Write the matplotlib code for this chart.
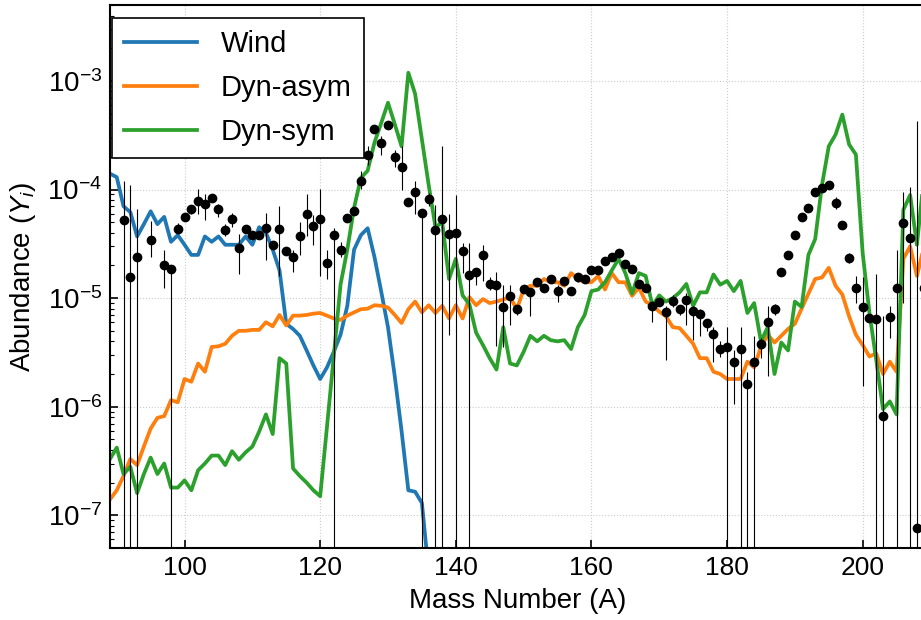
import sys
import numpy as np
from matplotlib import pyplot as plt

plt.rcParams["font.family"] = ["Liberation Sans", "DejaVu Sans"]
plt.rcParams["mathtext.fontset"] = "custom"
plt.rcParams["mathtext.rm"] = "Liberation Sans"
plt.rcParams["mathtext.it"] = "Liberation Sans:italic"

# model yields per mass number
wind_A = np.arange(89, 137)
wind_Y = [
    1.4e-4, 1.3e-4, 7.0e-5, 6.2e-5, 3.7e-5, 4.8e-5, 6.3e-5, 4.8e-5, 5.6e-5, 3.3e-5,   # 89-98
    3.8e-5, 3.1e-5, 2.5e-5, 2.5e-5, 3.7e-5, 3.3e-5, 3.7e-5, 3.1e-5, 3.1e-5, 3.1e-5,   # 99-108
    3.7e-5, 3.1e-5, 4.5e-5, 4.0e-5, 2.8e-5, 1.8e-5, 5.8e-6, 5.2e-6, 4.5e-6, 3.3e-6,   # 109-118
    2.4e-6, 1.8e-6, 2.3e-6, 3.2e-6, 4.6e-6, 8.5e-6, 2.8e-5, 3.8e-5, 4.4e-5, 2.4e-5,   # 119-128
    1.15e-5, 5.4e-6, 1.9e-6, 6.0e-7, 1.7e-7, 1.65e-7, 1.3e-7, 3.0e-8,                 # 129-136
]

dyn_A = np.arange(89, 210)
asym_Y = [
    1.4e-7, 1.7e-7, 2.3e-7, 3.3e-7, 2.9e-7, 4.3e-7, 6.3e-7, 7.9e-7, 8.2e-7, 1.15e-6,  # 89-98
    1.1e-6, 1.8e-6, 1.7e-6, 2.5e-6, 2.1e-6, 3.55e-6, 3.6e-6, 3.8e-6, 4.5e-6, 5.0e-6,  # 99-108
    5.0e-6, 5.1e-6, 5.1e-6, 6.0e-6, 5.5e-6, 7.0e-6, 5.6e-6, 6.9e-6, 6.9e-6, 7.0e-6,  # 109-118
    7.2e-6, 7.3e-6, 6.9e-6, 6.5e-6, 6.3e-6, 6.9e-6, 7.4e-6, 7.9e-6, 8.0e-6, 8.6e-6,  # 119-128
    8.5e-6, 8.2e-6, 7.0e-6, 5.9e-6, 7.9e-6, 9.3e-6, 7.4e-6, 8.6e-6, 7.3e-6, 8.5e-6,  # 129-138
    6.5e-6, 8.6e-6, 6.5e-6, 1.02e-5, 8.6e-6, 9.8e-6, 9.0e-6, 9.3e-6, 9.7e-6, 1.02e-5,  # 139-148
    7.9e-6, 1.2e-5, 1.3e-5, 1.3e-5, 1.5e-5, 1.4e-5, 1.4e-5, 1.3e-5, 1.7e-5, 1.5e-5,  # 149-158
    1.4e-5, 1.4e-5, 1.6e-5, 1.2e-5, 1.7e-5, 1.4e-5, 1.4e-5, 1.05e-5, 1.25e-5, 9.3e-6,  # 159-168
    8.6e-6, 7.5e-6, 6.8e-6, 5.4e-6, 5.3e-6, 4.5e-6, 3.8e-6, 2.8e-6, 2.8e-6, 2.1e-6,  # 169-178
    2.0e-6, 1.8e-6, 1.8e-6, 1.8e-6, 2.6e-6, 2.3e-6, 3.55e-6, 4.6e-6, 3.9e-6, 4.5e-6,  # 179-188
    5.2e-6, 5.8e-6, 8.0e-6, 1.1e-5, 1.5e-5, 1.55e-5, 1.9e-5, 1.3e-5, 1.08e-5, 6.8e-6,  # 189-198
    4.6e-6, 3.7e-6, 2.9e-6, 3.1e-6, 2.0e-6, 2.6e-6, 2.1e-6, 2.3e-5, 3.0e-5, 1.6e-5,  # 199-208
    2.9e-5,                                                                            # 209
]
sym_Y = [
    3.3e-7, 4.2e-7, 2.4e-7, 2.8e-7, 1.6e-7, 2.4e-7, 3.4e-7, 2.4e-7, 3.0e-7, 1.8e-7,  # 89-98
    1.8e-7, 2.1e-7, 1.7e-7, 2.6e-7, 3.0e-7, 3.55e-7, 3.55e-7, 2.9e-7, 3.9e-7, 3.25e-7,  # 99-108
    3.8e-7, 4.3e-7, 5.9e-7, 8.5e-7, 5.6e-7, 2.8e-6, 2.5e-6, 2.7e-7, 2.3e-7, 2.0e-7,  # 109-118
    1.7e-7, 1.5e-7, 6.5e-7, 2.9e-6, 1.33e-5, 2.8e-5, 6.8e-5, 1.28e-4, 1.49e-4, 2.7e-4,  # 119-128
    4.1e-4, 6.3e-4, 4.0e-4, 2.5e-4, 1.19e-3, 7.6e-4, 2.9e-4, 1.1e-4, 4.5e-5, 5.0e-5,  # 129-138
    1.5e-5, 2.3e-5, 1.06e-5, 8.8e-6, 4.8e-6, 3.7e-6, 2.8e-6, 2.2e-6, 5.4e-6, 2.5e-6,  # 139-148
    2.4e-6, 3.2e-6, 4.5e-6, 4.0e-6, 4.5e-6, 4.1e-6, 4.0e-6, 4.1e-6, 3.4e-6, 5.4e-6,  # 149-158
    7.0e-6, 1.16e-5, 1.2e-5, 1.4e-5, 1.8e-5, 2.3e-5, 1.7e-5, 1.1e-5, 1.7e-5, 1.6e-5,  # 159-168
    8.5e-6, 1.06e-5, 9.3e-6, 1.0e-5, 1.13e-5, 1.35e-5, 8.5e-6, 1.13e-5, 1.13e-5, 1.65e-5,  # 169-178
    1.33e-5, 1.44e-5, 1.16e-5, 1.44e-5, 7.3e-6, 9.0e-6, 4.0e-6, 5.4e-6, 2.0e-6, 3.9e-6,  # 179-188
    3.3e-6, 9.3e-6, 8.3e-6, 2.5e-5, 3.5e-5, 1.1e-4, 2.5e-4, 3.2e-4, 4.9e-4, 2.6e-4,  # 189-198
    2.1e-4, 2.6e-5, 7.3e-6, 2.7e-6, 9.5e-7, 1.12e-6, 8.5e-7, 6.5e-5, 8.9e-5, 3.1e-5,  # 199-208
    1.23e-4,                                                                           # 209
]

# solar r-process residuals: A, Y, lower end, upper end (0 = no lower limit)
obs = [
    (90, 6.4e-4, 3.0e-4, 7.4e-4), (91, 5.2e-5, 0, 1.19e-4), (92, 1.55e-5, 0, 1.09e-4),
    (93, 2.4e-5, 0, 6.6e-5), (95, 3.4e-5, 2.4e-5, 5.1e-5), (97, 2.0e-5, 1.24e-5, 2.8e-5),
    (98, 1.85e-5, 0, 2.0e-5), (99, 4.3e-5, 3.9e-5, 4.9e-5), (100, 5.6e-5, 5.6e-5, 5.6e-5),
    (101, 6.6e-5, 6.0e-5, 7.2e-5), (102, 7.85e-5, 6.0e-5, 1.02e-4), (103, 7.4e-5, 5.2e-5, 9.1e-5),
    (104, 8.3e-5, 7.6e-5, 9.1e-5), (105, 6.6e-5, 5.6e-5, 7.4e-5), (106, 4.2e-5, 3.7e-5, 4.8e-5),
    (107, 5.3e-5, 4.5e-5, 6.1e-5), (108, 2.9e-5, 1.66e-5, 3.9e-5), (109, 4.3e-5, 4.3e-5, 4.3e-5),
    (110, 3.8e-5, 3.8e-5, 3.8e-5), (111, 3.8e-5, 3.8e-5, 3.8e-5), (112, 4.4e-5, 2.25e-5, 6.1e-5),
    (113, 3.1e-5, 3.1e-5, 3.1e-5), (114, 4.3e-5, 1.6e-5, 7.1e-5), (115, 2.7e-5, 2.7e-5, 2.7e-5),
    (116, 2.4e-5, 1.75e-5, 2.8e-5), (117, 3.7e-5, 2.5e-5, 5.0e-5), (118, 6.0e-5, 3.7e-5, 9.1e-5),
    (119, 4.6e-5, 3.1e-5, 5.8e-5), (120, 5.3e-5, 1.6e-5, 1.02e-4), (121, 2.1e-5, 1.5e-5, 2.8e-5),
    (122, 3.8e-5, 0, 4.45e-5), (123, 2.8e-5, 2.4e-5, 3.3e-5), (124, 5.5e-5, 5.5e-5, 5.5e-5),
    (125, 6.4e-5, 6.4e-5, 6.4e-5), (126, 1.2e-4, 1.02e-4, 1.48e-4), (127, 2.1e-4, 1.7e-4, 2.5e-4),
    (128, 3.6e-4, 3.6e-4, 3.6e-4), (129, 2.7e-4, 2.1e-4, 3.1e-4), (130, 3.9e-4, 3.9e-4, 3.9e-4),
    (131, 2.0e-4, 1.6e-4, 2.3e-4), (132, 1.6e-4, 1.0e-4, 2.5e-4), (133, 7.6e-5, 7.6e-5, 7.6e-5),
    (134, 9.5e-5, 6.0e-5, 1.19e-4), (135, 6.1e-5, 0, 6.5e-5), (136, 8.2e-5, 7.0e-5, 9.2e-5),
    (137, 4.2e-5, 0, 7.2e-5), (138, 5.3e-5, 0, 2.5e-4), (139, 3.9e-5, 4.6e-6, 6.0e-5),
    (140, 4.0e-5, 0, 8.9e-5), (141, 2.7e-5, 1.7e-5, 3.2e-5), (142, 1.65e-5, 0, 3.2e-5),
    (143, 1.73e-5, 1.33e-5, 1.9e-5), (144, 2.5e-5, 1.44e-5, 3.1e-5), (145, 1.35e-5, 1.2e-5, 1.55e-5),
    (146, 1.33e-5, 3.6e-6, 1.73e-5), (147, 8.3e-6, 3.55e-6, 1.33e-5), (148, 1.05e-5, 5.6e-6, 1.33e-5),
    (149, 8.0e-6, 7.0e-6, 8.6e-6), (150, 1.22e-5, 1.22e-5, 1.22e-5), (151, 1.13e-5, 6.8e-6, 1.22e-5),
    (152, 1.41e-5, 1.41e-5, 1.41e-5), (153, 1.23e-5, 1.23e-5, 1.23e-5), (154, 1.5e-5, 1.5e-5, 1.5e-5),
    (155, 1.16e-5, 9.3e-6, 1.33e-5), (156, 1.44e-5, 1.44e-5, 1.44e-5), (157, 1.16e-5, 1.16e-5, 1.16e-5),
    (158, 1.55e-5, 1.4e-5, 1.65e-5), (159, 1.5e-5, 1.5e-5, 1.5e-5), (160, 1.83e-5, 1.83e-5, 1.83e-5),
    (161, 1.83e-5, 1.83e-5, 1.83e-5), (162, 2.2e-5, 2.2e-5, 2.2e-5), (163, 2.4e-5, 2.4e-5, 2.4e-5),
    (164, 2.6e-5, 2.6e-5, 2.6e-5), (165, 2.06e-5, 2.06e-5, 2.06e-5), (166, 1.87e-5, 1.87e-5, 1.87e-5),
    (167, 1.35e-5, 1.35e-5, 1.35e-5), (168, 1.25e-5, 1.25e-5, 1.25e-5), (169, 8.5e-6, 6.0e-6, 9.2e-6),
    (170, 9.3e-6, 9.3e-6, 9.3e-6), (171, 7.4e-6, 2.7e-6, 8.5e-6), (172, 9.5e-6, 8.2e-6, 1.06e-5),
    (173, 7.9e-6, 7.0e-6, 8.5e-6), (174, 9.7e-6, 5.7e-6, 1.12e-5), (175, 7.6e-6, 4.1e-6, 8.5e-6),
    (176, 7.2e-6, 4.5e-6, 7.9e-6), (177, 5.9e-6, 5.0e-6, 6.4e-6), (178, 4.7e-6, 2.6e-6, 5.4e-6),
    (179, 3.4e-6, 2.9e-6, 4.0e-6), (180, 3.55e-6, 0, 5.4e-6), (181, 2.6e-6, 1.06e-6, 3.3e-6),
    (182, 3.4e-6, 0, 5.4e-6), (183, 1.63e-6, 0, 2.1e-6), (184, 2.6e-6, 0, 4.45e-6),
    (185, 3.75e-6, 2.8e-6, 4.3e-6), (186, 6.0e-6, 1.9e-6, 8.5e-6), (187, 7.9e-6, 7.0e-6, 8.8e-6),
    (188, 1.73e-5, 1.73e-5, 1.73e-5), (189, 2.5e-5, 2.5e-5, 2.5e-5), (190, 3.8e-5, 3.8e-5, 3.8e-5),
    (191, 5.6e-5, 5.6e-5, 5.6e-5), (192, 6.8e-5, 6.8e-5, 6.8e-5), (193, 9.5e-5, 9.5e-5, 9.5e-5),
    (194, 1.04e-4, 1.04e-4, 1.04e-4), (195, 1.1e-4, 1.03e-4, 1.18e-4), (196, 7.5e-5, 6.6e-5, 8.6e-5),
    (197, 4.7e-5, 4.7e-5, 4.7e-5), (198, 2.35e-5, 2.1e-5, 2.6e-5), (199, 1.25e-5, 9.1e-6, 1.6e-5),
    (200, 8.3e-6, 1.56e-6, 1.57e-5), (201, 6.6e-6, 6.6e-6, 6.6e-6), (202, 6.4e-6, 0, 1.67e-5),
    (203, 8.2e-7, 0, 6.8e-6), (204, 6.7e-6, 4.3e-6, 8.5e-6), (205, 1.23e-5, 0, 2.8e-5),
    (206, 4.9e-5, 9.1e-6, 9.4e-5), (207, 3.55e-5, 0, 1.06e-4), (208, 7.6e-8, 0, 4.3e-4),
    (209, 1.23e-5, 1.23e-5, 1.23e-5),
]


def main(argv=None):

    obs_A = np.array([o[0] for o in obs])
    obs_Y = np.array([o[1] for o in obs])
    obs_lo = np.array([o[2] for o in obs])
    obs_hi = np.array([o[3] for o in obs])

    fig = plt.figure(figsize=(9.21, 6.2), dpi=100)
    ax = fig.add_axes([0.1194, 0.1161, 0.885, 0.8758])

    ax.plot(wind_A, wind_Y, color="tab:blue", lw=2.7, label="Wind", zorder=2)
    ax.plot(dyn_A, asym_Y, color="tab:orange", lw=2.7, label="Dyn-asym", zorder=2)
    ax.plot(dyn_A, sym_Y, color="tab:green", lw=2.7, label="Dyn-sym", zorder=2)

    # 误差棒：下限为 0 的一直画到底
    ax.errorbar(obs_A, obs_Y, yerr=[obs_Y - obs_lo, obs_hi - obs_Y], fmt="o",
                color="k", ms=6, elinewidth=0.8, capsize=0, zorder=3)

    ax.set_yscale("log")
    ax.set_xlim(89, 209.2)
    ax.set_ylim(5e-8, 5e-3)
    ax.set_xticks([100, 120, 140, 160, 180, 200])

    ax.grid(True, which="major", color="#cccccc", linestyle=":", lw=0.8)
    ax.tick_params(which="major", direction="in", length=6, width=1.2, labelsize=19, pad=5.5)
    ax.tick_params(axis="y", which="major", labelsize=20)
    ax.tick_params(which="minor", direction="in", length=3, width=0.8)
    ax.tick_params(axis="x", which="minor", bottom=False)
    for s in ax.spines.values():
        s.set_linewidth(1.5)

    ax.set_xlabel("Mass Number (A)", fontsize=20, labelpad=6)
    ax.set_ylabel("Abundance ($Y_i$)", fontsize=20, labelpad=7)

    leg = ax.legend(loc="upper left", bbox_to_anchor=(0.0025, 0.976), borderaxespad=0,
                    fontsize=21, handlelength=2.5, handletextpad=0.8, labelspacing=0.54,
                    borderpad=0.42, fancybox=False, framealpha=1, edgecolor="k")
    leg.get_frame().set_linewidth(1.2)

    fig.savefig("out.png", dpi=100)


if __name__ == "__main__":
    sys.exit(main())
